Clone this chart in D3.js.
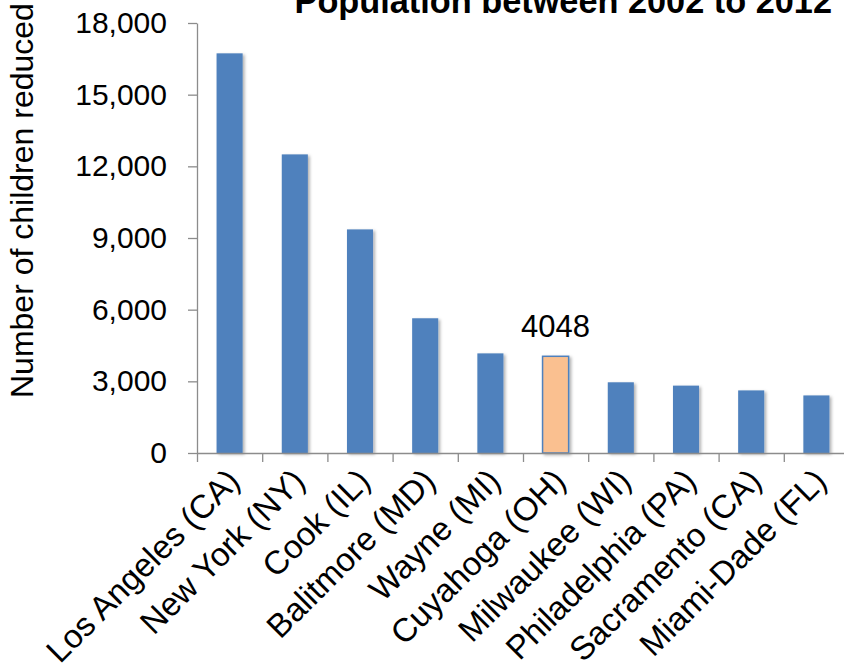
<!DOCTYPE html>
<html>
<head>
<meta charset="utf-8">
<script src="https://cdn.jsdelivr.net/npm/d3@7"></script>
<style>
  body { margin: 0; background: #fff; }
  text { font-family: "Liberation Sans", Arial, sans-serif; fill: #000; }
  .axis path, .axis line { stroke: #8c8c8c; stroke-width: 1.3; }
</style>
</head>
<body>
<div id="chart"></div>
<script>
var svgWidth = 844;
var svgHeight = 670;

// data
var counties = ["Los Angeles (CA)", "New York (NY)", "Cook (IL)", "Balitmore (MD)", "Wayne (MI)",
  "Cuyahoga (OH)", "Milwaukee (WI)", "Philadelphia (PA)", "Sacramento (CA)", "Miami-Dade (FL)"];
var reduced = [16730, 12500, 9360, 5640, 4170, 4048, 2960, 2820, 2620, 2410];
var highlight = "Cuyahoga (OH)";
var yTicks = [0, 3000, 6000, 9000, 12000, 15000, 18000];

var margin = { top: 23, left: 197, bottom: 217 };
var plotRight = 849;
var baseY = svgHeight - margin.bottom;

var svg = d3.select("#chart")
  .append("svg")
  .attr("width", svgWidth)
  .attr("height", svgHeight);

// soft shadow like the office chart
var defs = svg.append("defs");
defs.append("filter")
  .attr("id", "shadow")
  .attr("x", "-20%").attr("y", "-5%").attr("width", "150%").attr("height", "115%")
  .append("feDropShadow")
  .attr("dx", 2).attr("dy", 1.5).attr("stdDeviation", 1.5)
  .attr("flood-color", "#000").attr("flood-opacity", 0.3);

// scales
var xBand = d3.scaleBand()
  .domain(counties)
  .range([margin.left, plotRight])
  .padding(0);

var xEdge = d3.scaleLinear()
  .domain([0, counties.length])
  .range([margin.left, plotRight]);

var yScale = d3.scaleLinear()
  .domain([0, 18000])
  .range([baseY, margin.top]);

var barWidth = xBand.bandwidth() * 0.4;

// bars
svg.append("g")
  .selectAll("rect")
  .data(counties)
  .enter()
  .append("rect")
  .attr("x", (d, i) => xBand(d) + (xBand.bandwidth() - barWidth) / 2)
  .attr("y", (d, i) => yScale(reduced[i]))
  .attr("width", barWidth)
  .attr("height", (d, i) => baseY - yScale(reduced[i]))
  .attr("fill", d => d === highlight ? "#FAC090" : "#4F81BD")
  .attr("stroke", d => d === highlight ? "#4F81BD" : "none")
  .attr("stroke-width", 1.5)
  .attr("filter", "url(#shadow)");

// y axis
var yAxis = svg.append("g")
  .attr("class", "axis")
  .attr("transform", `translate(${margin.left}, 0)`)
  .call(d3.axisLeft(yScale)
    .tickValues(yTicks)
    .tickSize(9)
    .tickSizeOuter(0)
    .tickPadding(21)
    .tickFormat(d3.format(",")));
yAxis.selectAll("text").style("font-size", "30px");

// x axis ticks at category edges
var xAxis = svg.append("g")
  .attr("class", "axis")
  .attr("transform", `translate(0, ${baseY})`)
  .call(d3.axisBottom(xEdge)
    .tickValues(d3.range(0, counties.length + 1))
    .tickSize(9)
    .tickSizeOuter(0)
    .tickFormat(""));

// category labels
var xLabels = svg.append("g")
  .attr("transform", `translate(0, ${baseY})`)
  .call(d3.axisBottom(xBand).tickSize(0));
xLabels.select(".domain").remove();
xLabels.selectAll("text")
  .attr("x", 0)
  .attr("y", 0)
  .attr("dy", 0)
  .attr("text-anchor", "end")
  .attr("transform", "translate(12, 30) rotate(-45)")
  .style("font-size", "33px");

// value label on the highlighted bar
var hi = counties.indexOf(highlight);
svg.append("text")
  .attr("x", xBand(highlight) + xBand.bandwidth() / 2)
  .attr("y", yScale(reduced[hi]) - 19)
  .attr("text-anchor", "middle")
  .style("font-size", "31px")
  .text(reduced[hi]);

// y axis title
svg.append("text")
  .attr("transform", "translate(33, 398) rotate(-90)")
  .attr("text-anchor", "start")
  .style("font-size", "32px")
  .text("Number of children reduced");

// chart title (cut off at the top)
svg.append("text")
  .attr("x", 832)
  .attr("y", 13)
  .attr("text-anchor", "end")
  .style("font-size", "34.3px")
  .style("font-weight", "bold")
  .text("Population between 2002 to 2012");
</script>
</body>
</html>
